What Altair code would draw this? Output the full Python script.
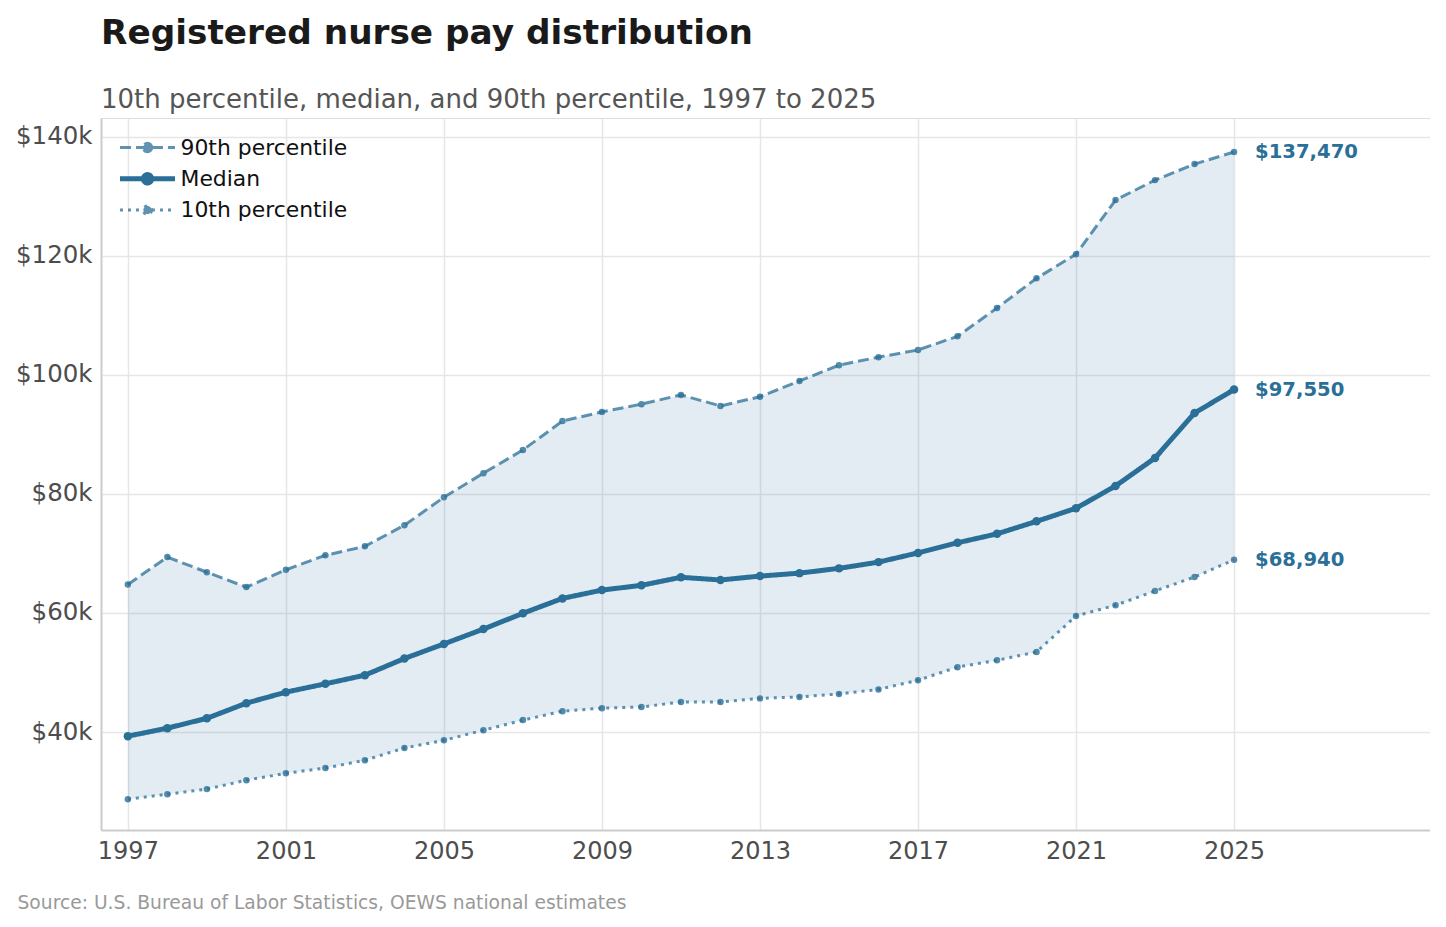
import altair as alt
import pandas as pd

years = list(range(1997, 2026))
p90 = [64800, 69400, 66850, 64350, 67250, 69700, 71200, 74750, 79450, 83500,
       87400, 92250, 93800, 95100, 96650, 94800, 96350, 99000, 101650, 103000,
       104200, 106500, 111250, 116250, 120300, 129400, 132750, 135450, 137470]
median = [39300, 40650, 42300, 44850, 46700, 48100, 49550, 52350, 54800, 57300,
          59950, 62450, 63850, 64650, 66000, 65550, 66200, 66700, 67500, 68550,
          70100, 71800, 73300, 75400, 77600, 81350, 86050, 93600, 97550]
p10 = [28700, 29550, 30400, 31900, 33050, 33950, 35250, 37300, 38600, 40300,
       42000, 43500, 44000, 44200, 45050, 45050, 45650, 45900, 46400, 47150,
       48700, 50900, 52050, 53450, 59500, 61300, 63700, 66050, 68940]

series_names = ["90th percentile", "Median", "10th percentile"]
x_ticks = [1997, 2001, 2005, 2009, 2013, 2017, 2021, 2025]
y_ticks = [40000, 60000, 80000, 100000, 120000, 140000]

BLUE = "#2a6f97"
FONT = "DejaVu Sans"

long_rows = []
for name, vals in zip(series_names, [p90, median, p10]):
    for yr, v in zip(years, vals):
        long_rows.append({"year": yr, "value": v, "series": name})
long_df = pd.DataFrame(long_rows)
band_df = pd.DataFrame({"year": years, "low": p10, "high": p90})
last_df = long_df[long_df["year"] == years[-1]]

x_enc = alt.X(
    "year:Q",
    scale=alt.Scale(domain=[1996.32, 2029.96], nice=False, zero=False),
    axis=alt.Axis(
        values=x_ticks, format="d",
        title="Source: U.S. Bureau of Labor Statistics, OEWS national estimates",
        titleAnchor="start", titleAlign="left", titleX=-84, titleY=78,
        titleBaseline="alphabetic", titleFontSize=18.7, titleFontWeight="normal",
        titleColor="#999999", titleFont=FONT,
        labelFontSize=24, labelColor="#4d4d4d", labelFont=FONT, labelPadding=9,
        ticks=False, domainColor="#cccccc", domainWidth=2,
        grid=True, gridColor="#e6e6e6", gridWidth=1.5,
    ),
)
y_scale = alt.Scale(domain=[23530, 143190], nice=False, zero=False)
y_axis = alt.Axis(
    values=y_ticks, labelExpr="'$' + datum.value / 1000 + 'k'", title=None,
    labelFontSize=24.5, labelColor="#4d4d4d", labelFont=FONT, labelPadding=9,
    ticks=False, domainColor="#cccccc", domainWidth=2,
    grid=True, gridColor="#e6e6e6", gridWidth=1.5,
)

band = alt.Chart(band_df).mark_area(color=BLUE, opacity=0.13).encode(
    x=x_enc,
    y=alt.Y("low:Q", scale=y_scale, axis=y_axis),
    y2="high:Q",
)

legend_path = "M-2.75,0H2.75M0.42,0A0.42,0.42,0,1,1,-0.42,0A0.42,0.42,0,1,1,0.42,0Z"

lines = alt.Chart(long_df).mark_line().encode(
    x=x_enc,
    y=alt.Y("value:Q", scale=y_scale, axis=y_axis),
    color=alt.Color(
        "series:N",
        scale=alt.Scale(domain=series_names, range=[BLUE, BLUE, BLUE]),
        legend=alt.Legend(
            title=None, orient="none", legendX=34, legendY=18,
            symbolType=legend_path, symbolSize=400, symbolFillColor=BLUE,
            labelFontSize=21.9, labelColor="#111111", labelFont=FONT,
            labelOffset=20.5, labelLimit=400, rowPadding=5.3, padding=0,
        ),
    ),
    strokeDash=alt.StrokeDash(
        "series:N",
        scale=alt.Scale(domain=series_names, range=[[11, 5], [1, 0], [3, 5]]),
    ),
    strokeWidth=alt.StrokeWidth(
        "series:N",
        scale=alt.Scale(type="ordinal", domain=series_names, range=[3, 5, 3]),
    ),
    opacity=alt.Opacity(
        "series:N",
        scale=alt.Scale(type="ordinal", domain=series_names, range=[0.75, 1.0, 0.75]),
    ),
    detail="series:N",
)

pct_points = alt.Chart(long_df).transform_filter(
    alt.datum.series != "Median"
).mark_point(filled=True, fill=BLUE, strokeWidth=0, size=42, opacity=0.8).encode(
    x=x_enc,
    y=alt.Y("value:Q", scale=y_scale, axis=y_axis),
)

med_points = alt.Chart(long_df).transform_filter(
    alt.datum.series == "Median"
).mark_point(filled=True, fill=BLUE, strokeWidth=0, size=72, opacity=1).encode(
    x=x_enc,
    y=alt.Y("value:Q", scale=y_scale, axis=y_axis),
)

labels = alt.Chart(last_df).mark_text(
    align="left", baseline="middle", dx=21, fontSize=19.6, fontWeight="bold",
    font=FONT, color=BLUE,
).encode(
    x=x_enc,
    y=alt.Y("value:Q", scale=y_scale, axis=y_axis),
    text=alt.Text("value:Q", format="$,.0f"),
)

chart = alt.layer(band, lines, pct_points, med_points, labels).properties(
    width=1329,
    height=712,
    autosize=alt.AutoSizeParams(type="none"),
    padding={"left": 93, "top": 110, "right": 0, "bottom": 88},
    title=alt.TitleParams(
        text="Registered nurse pay distribution",
        subtitle="10th percentile, median, and 90th percentile, 1997 to 2025",
        anchor="start", frame="group", font=FONT, fontSize=34.3, fontWeight="bold",
        color="#1a1a1a", subtitleFont=FONT, subtitleFontSize=26,
        subtitleColor="#555555", subtitlePadding=36, offset=5,
    ),
).configure_view(stroke=None).configure(background="white")

chart.save("out.html", embed_options={"renderer": "svg", "actions": False})
